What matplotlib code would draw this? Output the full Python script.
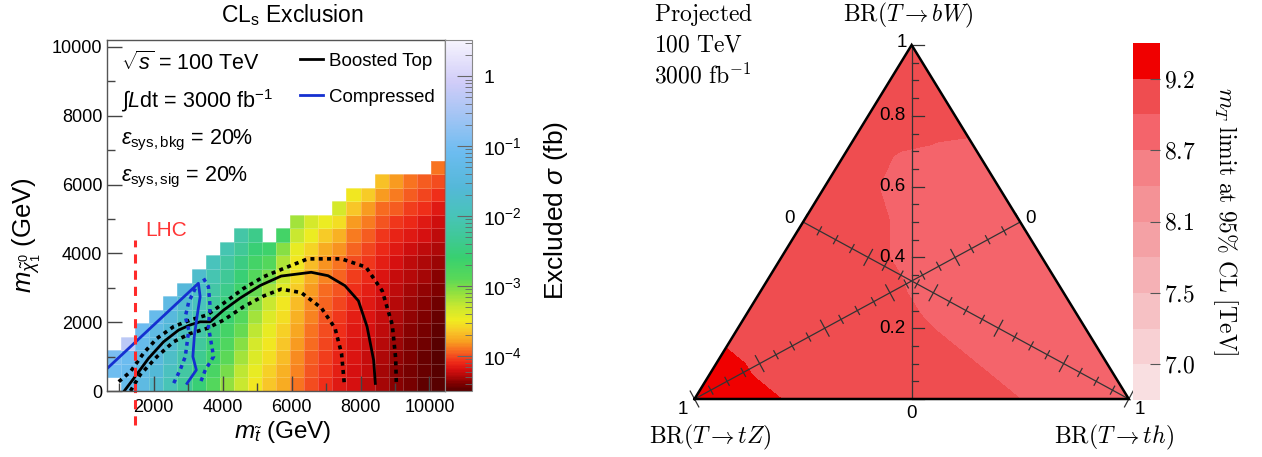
import numpy as np
import matplotlib
matplotlib.use("Agg")
import matplotlib.pyplot as plt
import matplotlib.tri as mtri
from matplotlib.colors import LogNorm, LinearSegmentedColormap
from matplotlib.ticker import LogLocator, NullFormatter, FixedLocator, FixedFormatter, MultipleLocator

plt.rcParams['font.family'] = ['Liberation Sans', 'DejaVu Sans']
plt.rcParams['mathtext.fontset'] = 'custom'
plt.rcParams['mathtext.rm'] = 'Liberation Sans'
plt.rcParams['mathtext.it'] = 'Liberation Sans:italic'
plt.rcParams['mathtext.bf'] = 'Liberation Sans:bold'
plt.rcParams['mathtext.sf'] = 'Liberation Sans'

# === LEFT: stop / neutralino exclusion ===
stop_range = [650, 10450]          # GeV, first and last cell edge
n_stop_cells = 24
lsp_cell_height = 394              # GeV

# log10(excluded sigma / fb), one list per stop column, bottom row first
sigma_log10_by_column = [
    [np.nan, -1.05, -0.95],
    [-1.2, -1.15, -1.1, -0.3],
    [-1.4, -1.35, -1.3, -1.2, -1.1],
    [-1.7, -1.6, -1.5, -1.45, -1.35, -1.2],
    [-2.0, -1.9, -1.8, -1.7, -1.6, -1.5, -1.35],
    [-2.3, -2.2, -2.1, -2.0, -1.9, -1.8, -1.7, -1.55],
    [-2.55, -2.45, -2.35, -2.25, -2.15, -2.05, -1.95, -1.85, -1.75],
    [-2.85, -2.75, -2.65, -2.55, -2.45, -2.35, -2.25, -2.15, -2.05, -1.95],
    [-3.1, -3.0, -2.9, -2.8, -2.7, -2.6, -2.5, -2.4, -2.3, -2.2, -2.05],
    [-3.3, -3.25, -3.15, -3.05, -2.95, -2.85, -2.75, -2.65, -2.55, -2.45, -2.3, -2.15],
    [-3.5, -3.45, -3.4, -3.35, -3.25, -3.15, -3.05, -2.95, -2.85, -2.7, -2.55, -2.4],
    [-3.65, -3.6, -3.55, -3.5, -3.45, -3.4, -3.3, -3.15, -3.0, -2.85, -2.65],
    [-3.75, -3.72, -3.68, -3.64, -3.6, -3.55, -3.5, -3.42, -3.32, -3.2, -3.05, -2.7],
    [-3.9, -3.87, -3.84, -3.8, -3.76, -3.72, -3.68, -3.63, -3.57, -3.5, -3.45, -3.3, -3.15],
    [-4.0, -3.98, -3.96, -3.93, -3.9, -3.87, -3.84, -3.8, -3.75, -3.68, -3.58, -3.48, -3.35],
    [-4.08, -4.06, -4.04, -4.02, -4.0, -3.98, -3.95, -3.92, -3.87, -3.82, -3.74, -3.62, -3.48],
    [-4.15, -4.13, -4.11, -4.09, -4.07, -4.05, -4.02, -3.99, -3.95, -3.9, -3.82, -3.72, -3.55, -3.35],
    [-4.2, -4.19, -4.18, -4.17, -4.15, -4.13, -4.1, -4.07, -4.04, -4.0, -3.95, -3.88, -3.8, -3.65, -3.5],
    [-4.25, -4.24, -4.23, -4.22, -4.2, -4.18, -4.16, -4.13, -4.1, -4.06, -4.01, -3.96, -3.89, -3.8, -3.63],
    [-4.32, -4.31, -4.3, -4.28, -4.26, -4.24, -4.22, -4.2, -4.17, -4.13, -4.09, -4.05, -3.99, -3.93, -3.8, -3.66],
    [-4.38, -4.37, -4.36, -4.34, -4.32, -4.3, -4.28, -4.26, -4.23, -4.2, -4.16, -4.11, -4.05, -3.97, -3.88, -3.8],
    [-4.42, -4.41, -4.4, -4.39, -4.37, -4.35, -4.33, -4.31, -4.28, -4.25, -4.21, -4.16, -4.1, -4.04, -3.96, -3.9],
    [-4.47, -4.46, -4.45, -4.44, -4.42, -4.4, -4.38, -4.35, -4.32, -4.29, -4.25, -4.2, -4.15, -4.08, -4.02, -3.96],
    [-4.52, -4.51, -4.5, -4.49, -4.47, -4.45, -4.43, -4.4, -4.37, -4.34, -4.3, -4.26, -4.21, -4.15, -4.08, -4.0, -3.9],
]

boosted_x = [1150, 1430, 1855, 2290, 2725, 3060, 3350, 3640, 4030, 4510, 5100, 5700, 6570, 7060, 7550, 7940, 8190, 8380, 8430]
boosted_y = [0, 370, 950, 1430, 1770, 1920, 2010, 2010, 2350, 2700, 3070, 3340, 3450, 3350, 3060, 2620, 1870, 900, 220]
boosted_up_x = [990, 1330, 1710, 2100, 2580, 3060, 3550, 4030, 4610, 5190, 5770, 6470, 7450, 8160, 8630, 8920, 9020, 9040]
boosted_up_y = [270, 560, 1100, 1530, 1870, 2060, 2210, 2550, 2980, 3320, 3560, 3840, 3840, 3600, 2910, 1930, 950, 160]
boosted_dn_x = [1330, 1610, 2100, 2580, 3060, 3550, 4030, 4610, 5190, 5700, 6280, 6860, 7260, 7450, 7530]
boosted_dn_y = [0, 470, 1000, 1430, 1670, 1820, 2060, 2450, 2760, 2960, 2860, 2420, 1830, 1090, 220]

comp_x = [650, 3300, 3350, 3260, 3180, 3140, 3240, 2970]
comp_y = [650, 3130, 2740, 2160, 1580, 1000, 610, 220]
comp_up_x = [3450, 3590, 3640, 3590, 3690, 3740, 3500, 3350]
comp_up_y = [3270, 3030, 2450, 1870, 1290, 1000, 610, 220]
comp_dn_x = [3210, 3020, 2920, 3020, 2970, 2920, 2770, 2580]
comp_dn_y = [2980, 2590, 2160, 1770, 1380, 1000, 610, 220]

lhc_mass = 1450
lhc_extent = [-1000, 4400]

sigma_ticks = [1e-4, 1e-3, 1e-2, 1e-1, 1]
sigma_tick_labels = [r'$10^{-4}$', r'$10^{-3}$', r'$10^{-2}$', r'$10^{-1}$', '1']
sigma_range = [10 ** -4.5, 10 ** 0.52]

# === RIGHT: ternary BR scan of the T quark limit ===
br_bw_values = [0.0, 0.1, 0.2, 0.3, 0.4, 0.5, 0.6, 0.7, 0.8, 0.9, 1.0]
br_step = 0.1
# mT limit (TeV); row = BR(bW), entries run over BR(th) = 0, 0.1, ...
mt_limit_rows = [
    [9.28, 9.24, 9.20, 9.14, 9.10, 9.06, 9.01, 8.97, 8.93, 8.89, 8.84],
    [9.24, 9.18, 9.12, 9.08, 9.04, 8.99, 8.95, 8.91, 8.86, 8.82],
    [9.15, 9.10, 9.06, 9.01, 8.97, 8.93, 8.89, 8.84, 8.80],
    [9.10, 9.05, 9.01, 8.97, 8.92, 8.88, 8.84, 8.80],
    [9.06, 9.01, 8.97, 8.93, 8.89, 8.84, 8.80],
    [9.04, 8.99, 8.95, 8.91, 8.86, 8.82],
    [9.01, 8.96, 8.92, 8.88, 8.83],
    [8.99, 8.955, 8.935, 8.925],
    [9.05, 9.02, 8.99],
    [9.08, 9.06],
    [9.10],
]
mt_levels = [6.75, 7.0, 7.25, 7.5, 7.8, 8.1, 8.4, 8.7, 8.95, 9.2, 9.45]
mt_ticks = [7.0, 7.5, 8.1, 8.7, 9.2]
mt_colors = ['#f9dfe1', '#f8d0d3', '#f6c1c4', '#f5b1b5', '#f4a1a5',
             '#f49296', '#f48186', '#f4646b', '#ef4d50', '#f00000']

# === FIGURE ===
W, H = 1262, 457
fig = plt.figure(figsize=(W / 100, H / 100), dpi=100)


def px_box(x0, y0, x1, y1):
    return [x0 / W, 1 - y1 / H, (x1 - x0) / W, (y1 - y0) / H]


# ---------- left panel ----------
ax = fig.add_axes(px_box(107, 40, 445, 391))
cax = fig.add_axes(px_box(445, 40, 472, 391))

root_cmap = LinearSegmentedColormap.from_list('root_like', [
    (0.000, '#580000'), (0.020, '#800000'), (0.040, '#b00808'), (0.060, '#d81010'),
    (0.080, '#ee2a18'), (0.100, '#f45020'), (0.120, '#f87820'), (0.140, '#f8a020'),
    (0.170, '#f8c828'), (0.200, '#f0ec20'), (0.240, '#c8e830'), (0.280, '#90e040'),
    (0.320, '#58d858'), (0.380, '#38d070'), (0.440, '#40c898'), (0.500, '#48c4b8'),
    (0.580, '#54b8d8'), (0.680, '#6cbcf0'), (0.780, '#a0c4f4'), (0.880, '#d0ccf8'),
    (1.000, '#f6f4fd')])
norm = LogNorm(vmin=sigma_range[0], vmax=sigma_range[1])

stop_edges = np.linspace(stop_range[0], stop_range[1], n_stop_cells + 1)
n_rows = max(len(c) for c in sigma_log10_by_column)
lsp_edges = np.arange(n_rows + 1) * lsp_cell_height
grid = np.full((n_rows, n_stop_cells), np.nan)
for k, col in enumerate(sigma_log10_by_column):
    grid[:len(col), k] = col
mesh = ax.pcolormesh(stop_edges, lsp_edges, np.ma.masked_invalid(10.0 ** grid),
                     cmap=root_cmap, norm=norm, edgecolors=(1, 1, 1, 0.2), linewidth=0.5)

dash = (0, (1.1, 1.2))
ax.plot(boosted_x, boosted_y, color='black', lw=2.0, label='Boosted Top')
ax.plot(boosted_up_x, boosted_up_y, color='black', lw=2.6, ls=dash)
ax.plot(boosted_dn_x, boosted_dn_y, color='black', lw=2.6, ls=dash)
ax.plot(comp_x, comp_y, color='#1530d0', lw=2.0, label='Compressed')
ax.plot(comp_up_x, comp_up_y, color='#1530d0', lw=2.5, ls=dash)
ax.plot(comp_dn_x, comp_dn_y, color='#1530d0', lw=2.5, ls=dash)
ax.plot([lhc_mass, lhc_mass], lhc_extent, color='#ff2a2a', lw=2.2, ls=(0, (3, 2.3)), clip_on=False)
ax.text(1760, 4670, 'LHC', color='#ff3535', fontsize=15, va='center')

ax.set_xlim(stop_range)
ax.set_ylim(0, 10200)
ax.set_xticks([2000, 4000, 6000, 8000, 10000])
ax.set_yticks([0, 2000, 4000, 6000, 8000, 10000])
ax.xaxis.set_minor_locator(MultipleLocator(1000))
ax.yaxis.set_minor_locator(MultipleLocator(1000))
ax.tick_params(which='both', direction='in', top=False, right=False, color='#444444', labelsize=13)
ax.tick_params(which='major', length=11, width=1)
ax.tick_params(which='minor', length=6, width=1)
ax.tick_params(axis='x', pad=6)
for s in ax.spines.values():
    s.set_color('#555555')
    s.set_linewidth(1)

leg = ax.legend(loc='upper left', bbox_to_anchor=(0.55, 0.985), frameon=False, fontsize=13.5,
                handlelength=1.2, handletextpad=0.3, labelspacing=1.0, borderaxespad=0)

cb = fig.colorbar(mesh, cax=cax)
cb.outline.set_edgecolor('#888888')
cax.yaxis.set_major_locator(FixedLocator(sigma_ticks))
cax.yaxis.set_major_formatter(FixedFormatter(sigma_tick_labels))
cax.yaxis.set_minor_locator(LogLocator(base=10, subs=np.arange(2, 10)))
cax.yaxis.set_minor_formatter(NullFormatter())
cax.tick_params(which='both', direction='in', right=True, color='#666666', labelsize=14, pad=8)
cax.tick_params(which='major', length=11)
cax.tick_params(which='minor', length=5)

fig.text(292 / W, 1 - 15 / H, r'CL$_{\mathrm{s}}$ Exclusion', fontsize=16.5, ha='center', va='center')
fig.text(27 / W, 1 - 235 / H, r'$m_{\tilde{\chi}^{0}_{1}}$ (GeV)', fontsize=18.5, rotation=90, ha='center', va='center')
fig.text(283 / W, 1 - 432 / H, r'$m_{\tilde{t}}$ (GeV)', fontsize=17.5, ha='center', va='center')
fig.text(556 / W, 1 - 210 / H, r'Excluded $\sigma$ (fb)', fontsize=19, rotation=90, ha='center', va='center')

fig.text(121 / W, 1 - 63 / H, r'$\sqrt{s}$ = 100 TeV', fontsize=15.5, va='center')
fig.text(121 / W, 1 - 101 / H, r'$\int L\mathrm{dt}$ = 3000 fb$^{-1}$', fontsize=15.5, va='center')
fig.text(121 / W, 1 - 140 / H, r'$\varepsilon_{\mathrm{sys,bkg}}$ = 20%', fontsize=15.5, va='center')
fig.text(121 / W, 1 - 177 / H, r'$\varepsilon_{\mathrm{sys,sig}}$ = 20%', fontsize=15.5, va='center')

# ---------- right panel ----------
tri_px = (694.5, 45, 1128.8, 399)
tax = fig.add_axes(px_box(*tri_px))
tax.set_xlim(-1, 1)
tax.set_ylim(0, 1)
tax.axis('off')
sx = (tri_px[2] - tri_px[0]) / 2.0     # px per data unit
sy = (tri_px[3] - tri_px[1]) / 1.0

# lattice points: x = BR(th) - BR(tZ), y = BR(bW)
pts_x, pts_y, pts_v, index = [], [], [], {}
for i, b in enumerate(br_bw_values):
    for j, v in enumerate(mt_limit_rows[i]):
        h = j * br_step
        z = 1 - b - h
        index[(i, j)] = len(pts_x)
        pts_x.append(h - z)
        pts_y.append(b)
        pts_v.append(v)
triangles = []
n = len(br_bw_values)
for i in range(n - 1):
    m = len(mt_limit_rows[i])
    for j in range(m - 1):
        triangles.append([index[(i, j)], index[(i, j + 1)], index[(i + 1, j)]])
        if j + 1 < len(mt_limit_rows[i + 1]):
            triangles.append([index[(i, j + 1)], index[(i + 1, j + 1)], index[(i + 1, j)]])
tri = mtri.Triangulation(pts_x, pts_y, triangles)
cs = tax.tricontourf(tri, pts_v, levels=mt_levels, colors=mt_colors)

axis_col = '#333333'
tax.plot([-1, 1, 0, -1], [0, 0, 1, 0], color='black', lw=1.8, clip_on=False,
         solid_joinstyle='miter', zorder=5)

# vertical BR(bW) axis
tax.plot([0, 0], [0, 1], color=axis_col, lw=0.9, zorder=4)
for t in np.round(np.arange(0, 1.0001, 0.05), 2):
    major = abs(t / 0.2 - round(t / 0.2)) < 1e-6
    L = 12 if major else 6
    tax.plot([0, L / sx], [t, t], color=axis_col, lw=0.9, zorder=4, clip_on=False)
for v in [0.2, 0.4, 0.6, 0.8]:
    tax.text(-6 / sx, v, f'{v:.1f}', ha='right', va='center', fontsize=13.5)
tax.text(0, -14 / sy, '0', ha='center', va='center', fontsize=13.5)
tax.text(-10 / sx, 1 + 3 / sy, '1', ha='center', va='center', fontsize=13.5)

# the two medians towards the th and tZ vertices
for (x0, y0), (x1, y1) in [((-0.5, 0.5), (1, 0)), ((0.5, 0.5), (-1, 0))]:
    tax.plot([x0, x1], [y0, y1], color=axis_col, lw=0.9, zorder=4)
    dx, dy = (x1 - x0) * sx, (y1 - y0) * sy
    ln = np.hypot(dx, dy)
    nx, ny = -dy / ln, dx / ln
    for t in np.round(np.arange(0, 1.0001, 0.05), 2):
        major = abs(t / 0.2 - round(t / 0.2)) < 1e-6
        L = 9 if major else 4.5
        cx, cy = x0 + t * (x1 - x0), y0 + t * (y1 - y0)
        tax.plot([cx - nx * L / sx, cx + nx * L / sx], [cy - ny * L / sy, cy + ny * L / sy],
                 color=axis_col, lw=0.9, zorder=4, clip_on=False)
tax.text(-0.5 - 14 / sx, 0.5 + 4 / sy, '0', ha='center', va='center', fontsize=13.5)
tax.text(0.5 + 10 / sx, 0.5 + 4 / sy, '0', ha='center', va='center', fontsize=13.5)
tax.text(-1 - 12 / sx, -11 / sy, '1', ha='center', va='center', fontsize=13.5)
tax.text(1 + 11 / sx, -11 / sy, '1', ha='center', va='center', fontsize=13.5)

cax2 = fig.add_axes(px_box(1133, 43, 1160, 400))
cb2 = fig.colorbar(cs, cax=cax2, ticks=mt_ticks)
cb2.outline.set_visible(False)
cax2.set_yticklabels([f'${t:.1f}$' for t in mt_ticks])
for lab in cax2.get_yticklabels():
    lab.set_math_fontfamily('cm')
cax2.tick_params(direction='in', length=7, width=0.8, color='#555555', labelsize=17, pad=3)

cm_kw = dict(math_fontfamily='cm', fontsize=17)
fig.text(654 / W, 1 - 14 / H, r'$\mathrm{Projected}$', va='center', **cm_kw)
fig.text(654 / W, 1 - 45 / H, r'$100\ \mathrm{TeV}$', va='center', **cm_kw)
fig.text(654 / W, 1 - 76 / H, r'$3000\ \mathrm{fb}^{-1}$', va='center', **cm_kw)
fig.text(908 / W, 1 - 15 / H, r'$\mathrm{BR}(T\rightarrow bW)$', ha='center', va='center', **cm_kw)
fig.text(710 / W, 1 - 437 / H, r'$\mathrm{BR}(T\rightarrow tZ)$', ha='center', va='center', **cm_kw)
fig.text(1114 / W, 1 - 437 / H, r'$\mathrm{BR}(T\rightarrow th)$', ha='center', va='center', **cm_kw)
fig.text(1225 / W, 1 - 221 / H, r'$m_T\ \mathrm{limit\ at\ 95\%\ CL\ [TeV]}$', rotation=270,
         ha='center', va='center', **cm_kw)

fig.savefig('out.png', dpi=100)
